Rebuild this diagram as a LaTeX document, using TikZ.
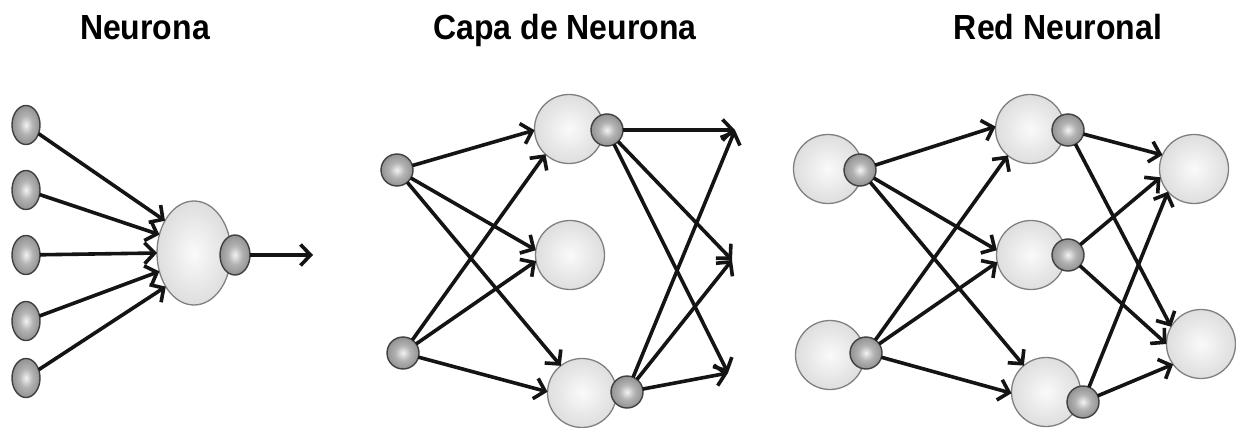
\documentclass[tikz,border=0pt]{standalone}
\usepackage{fontspec}
\setmainfont{Liberation Sans}
\usetikzlibrary{arrows.meta,shapes.geometric}

% soft light sphere for the neuron bodies
\pgfdeclareradialshading{bigball}{\pgfpoint{0bp}{0bp}}{%
  color(0bp)=(white!98!black); color(18bp)=(white!90!black);
  color(50bp)=(white!77!black); color(100bp)=(white!77!black)}
% darker sphere for the connection points
\pgfdeclareradialshading{smallball}{\pgfpoint{0bp}{0bp}}{%
  color(0bp)=(white!95!black); color(12bp)=(white!70!black);
  color(50bp)=(white!33!black); color(100bp)=(white!33!black)}

\begin{document}
\begin{tikzpicture}[x=1pt,y=-1pt,
  big/.style={circle, minimum size=69pt, inner sep=0pt, outer sep=0pt,
    draw=black!50, line width=1.3pt, shading=bigball},
  bigv/.style={ellipse, minimum width=74pt, minimum height=104pt, inner sep=0pt,
    outer sep=0pt, draw=black!50, line width=1.3pt, shading=bigball},
  small/.style={circle, minimum size=32pt, inner sep=0pt, outer sep=0pt,
    draw=black!75, line width=1.4pt, shading=smallball},
  smallv/.style={ellipse, minimum width=28pt, minimum height=39pt, inner sep=0pt,
    outer sep=0pt, draw=black!75, line width=1.4pt, shading=smallball},
  wire/.style={line width=3.6pt, black!92,
    -{Straight Barb[length=10pt,width=21pt]}},
  title/.style={anchor=base, inner sep=0pt, font=\fontsize{32}{38}\selectfont\bfseries}]

\fill[white] (0,0) rectangle (1236,428);
\useasboundingbox (0,0) rectangle (1236,428);

% titles (set slightly tall)
\node[title] (t1) at (145,40) {\scalebox{1}[1.09]{Neurona}};
\node[title] (t2) at (565,40) {\scalebox{1}[1.09]{Capa de Neurona}};
\node[title] (t3) at (1058,40) {\scalebox{1}[1.09]{Red Neuronal}};

% ---------- single neuron ----------
\node[bigv] (n) at (194,253) {};
\node[smallv, minimum width=30pt, minimum height=40pt] (no) at (235,255) {};
\foreach \i/\y in {1/125,2/190,3/255,4/321,5/378}
  \node[smallv] (x\i) at (26,\y) {};
\coordinate (nout) at (313,255);
\draw[wire] (x1) -- (n.132);
\draw[wire] (x2) -- (n.152);
\draw[wire] (x3) -- (n.180);
\draw[wire] (x4) -- (n.208);
\draw[wire] (x5) -- (n.230);
\draw[wire] (no) -- (nout);

% ---------- layer of neurons ----------
\node[big] (a1) at (569,129) {};
\node[big] (a2) at (570,255) {};
\node[big] (a3) at (582,393) {};
\node[small] (a1o) at (607,130) {};
\node[small] (a3o) at (627,392) {};
\node[small] (p1) at (397,170) {};
\node[small] (p2) at (403,353) {};
\coordinate (q1) at (735,130);
\coordinate (q2) at (732,260);
\coordinate (q3) at (728,373);
\draw[wire] (p1) -- (a1.182);
\draw[wire] (p1) -- (a2.172);
\draw[wire] (p1) -- (a3.128);
\draw[wire] (p2) -- (a1.227);
\draw[wire] (p2) -- (a2.190);
\draw[wire] (p2) -- (a3.178);
\foreach \s in {a1o,a3o}
  \foreach \t in {q1,q2,q3}
    \draw[wire] (\s) -- (\t);

% ---------- neural network ----------
\node[big] (i1) at (828,169) {};
\node[big] (i2) at (830,355) {};
\node[small] (i1o) at (860,170) {};
\node[small] (i2o) at (866,353) {};
\node[big] (h1) at (1030,129) {};
\node[big] (h2) at (1031,255) {};
\node[big] (h3) at (1046,392) {};
\node[small] (h1o) at (1068,130) {};
\node[small] (h2o) at (1068,255) {};
\node[small] (h3o) at (1083,402) {};
\node[big] (o1) at (1194,169) {};
\node[big] (o2) at (1201,344) {};
\draw[wire] (i1o) -- (h1.176);
\draw[wire] (i1o) -- (h2.172);
\draw[wire] (i1o) -- (h3.130);
\draw[wire] (i2o) -- (h1.230);
\draw[wire] (i2o) -- (h2.192);
\draw[wire] (i2o) -- (h3.182);
\draw[wire] (h1o) -- (o1.156);
\draw[wire] (h1o) -- (o2.150);
\draw[wire] (h2o) -- (o1.194);
\draw[wire] (h2o) -- (o2.180);
\draw[wire] (h3o) -- (o1.221);
\draw[wire] (h3o) -- (o2.216);
\end{tikzpicture}
\end{document}
